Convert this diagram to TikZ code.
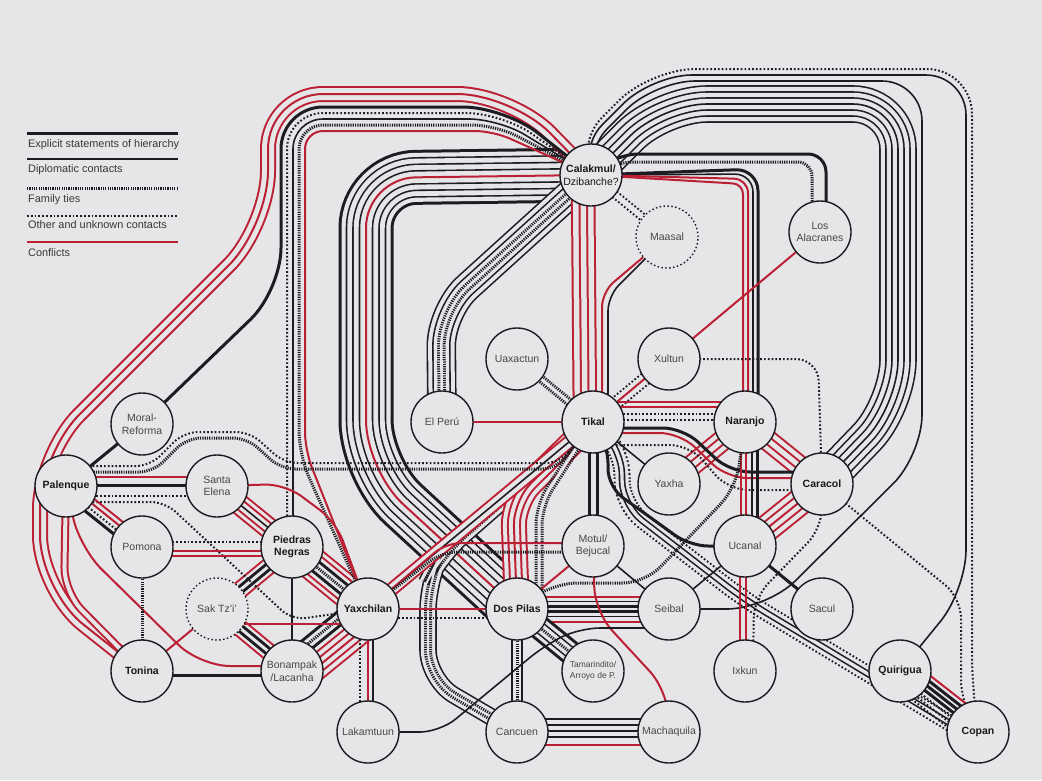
\documentclass[tikz,border=0pt]{standalone}
\usepackage{fontspec}
\setmainfont{Liberation Sans}
\usetikzlibrary{calc}
\definecolor{bgc}{RGB}{230,230,232}
\definecolor{cred}{RGB}{188,32,52}
\definecolor{ink}{RGB}{28,28,34}
\pgfdeclarelayer{back}
\pgfsetlayers{back,main}
\tikzset{
 C/.style={draw=cred,line width={2*#1+2}}, C/.default=0,
 GC/.style={draw=bgc,line width={2*#1-2}},
 H/.style={draw=ink,line width={2*#1+3}}, H/.default=0,
 GH/.style={draw=bgc,line width={2*#1-3}},
 D/.style={draw=ink,line width={2*#1+1.6}}, D/.default=0,
 GD/.style={draw=bgc,line width={2*#1-1.6}},
 F/.style={draw=ink,line width={2*#1+3},dash pattern=on 1.2pt off 1.1pt}, F/.default=0,
 GF/.style={draw=bgc,line width={2*#1-3}},
 O/.style={draw=ink,line width={2*#1+2},dash pattern=on 1.7pt off 2.1pt}, O/.default=0,
 GO/.style={draw=bgc,line width={2*#1-2}},
 site/.style={circle,draw=ink,line width=1.4pt,fill=bgc,minimum size=62pt,inner sep=0pt,align=center,
   font=\fontsize{10.5}{12.5}\selectfont,text=black!72},
 major/.style={site,font=\fontsize{10.5}{12.5}\selectfont\bfseries,text=black!90},
 uncertain/.style={site,dash pattern=on 1.5pt off 2.4pt},
 legtext/.style={anchor=west,inner sep=0pt,font=\fontsize{10.9}{12}\selectfont,text=black!78},
}
\newcommand\bund[3][]{\foreach \s/\o in {#3}{\draw[\s=\o,#1] #2;\ifdim\o pt>0pt\relax\draw[G\s=\o,#1] #2;\fi}}
\begin{document}
\begin{tikzpicture}[x=1pt,y=-1pt]
\useasboundingbox (0,0) rectangle (1042,780);
% ---- sites ----
\node[major] (cal) at (591,175) {Calakmul/\\\mdseries Dzibanche?};
\node[uncertain] (maa) at (667,237) {Maasal};
\node[site] (ala) at (820,232) {Los\\Alacranes};
\node[site] (uax) at (517,359) {Uaxactun};
\node[site] (xul) at (669,359) {Xultun};
\node[site] (per) at (442,422) {El Perú};
\node[major] (tik) at (593,422) {Tikal};
\node[major] (nar) at (745,422) {Naranjo};
\node[site] (yah) at (669,484) {Yaxha};
\node[major] (car) at (822,484) {Caracol};
\node[site] (mor) at (142,424) {Moral-\\Reforma};
\node[major] (pal) at (66,486) {Palenque};
\node[site] (sel) at (217,486) {Santa\\Elena};
\node[site] (pom) at (142,547) {Pomona};
\node[major] (pie) at (292,547) {Piedras\\Negras};
\node[uncertain] (sak) at (217,609) {Sak Tz'i'};
\node[site] (mot) at (593,546) {Motul/\\Bejucal};
\node[site] (uca) at (745,546) {Ucanal};
\node[major] (yax) at (368,609) {Yaxchilan};
\node[major] (dos) at (517,609) {Dos Pilas};
\node[site] (sei) at (669,609) {Seibal};
\node[site] (sac) at (822,609) {Sacul};
\node[major] (ton) at (142,671) {Tonina};
\node[site] (bon) at (292,671) {Bonampak\\/Lacanha};
\node[site,font=\fontsize{8.5}{10.5}\selectfont] (tam) at (593,671) {Tamarindito/\\Arroyo de P.};
\node[site] (ixk) at (745,671) {Ixkun};
\node[major] (qui) at (900,671) {Quirigua};
\node[site] (lak) at (368,732) {Lakamtuun};
\node[site] (can) at (517,732) {Cancuen};
\node[site] (mac) at (669,732) {Machaquila};
\node[major] (cop) at (978,732) {Copan};
% ---- legend ----
\coordinate (l1a) at (27,133); \coordinate (l1b) at (178,133);
\coordinate (l2a) at (27,159); \coordinate (l2b) at (178,159);
\coordinate (l3a) at (27,188); \coordinate (l3b) at (178,188);
\coordinate (l4a) at (27,216); \coordinate (l4b) at (178,216);
\coordinate (l5a) at (27,242); \coordinate (l5b) at (178,242);
\draw[H] (l1a) -- (l1b); \draw[D] (l2a) -- (l2b); \draw[F] (l3a) -- (l3b);
\draw[O] (l4a) -- (l4b); \draw[C] (l5a) -- (l5b);
\node[legtext] (t1) at (28,145) {Explicit statements of hierarchy};
\node[legtext] (t2) at (28,170) {Diplomatic contacts};
\node[legtext] (t3) at (28,200) {Family ties};
\node[legtext] (t4) at (28,225) {Other and unknown contacts};
\node[legtext] (t5) at (28,253) {Conflicts};
% ---- connectors ----
\begin{pgfonlayer}{back}
\fill[bgc] (0,0) rectangle (1042,780);
% big bundles
\bund[rounded corners=50pt]{(cal.center) -- (366,178) -- (366,470) -- (dos.center)}{H/26,D/19.5,D/13,D/6.5,C/0}
\bund[rounded corners=45pt]{(cal.center) -- (662,104) -- (898,104) -- (898,405) -- (car.center)}{D/18,D/12,D/6,D/0}
\bund[rounded corners=35pt]{(cal.center) -- (441,311) -- (per.center)}{D/14,D/8.4,F/2.8}
\bund[rounded corners=55pt]{(cal.center) -- (512,94) -- (268,94) -- (268,226) -- (40,454) -- (40,590) -- (ton.center)}{C/7,C/0}
\bund[rounded corners=25pt]{(tik.center) -- (622,450) -- (622,505) -- (745,600) -- ($(cop)+(0,8)$)}{O/7.5,D/2.5}
\bund[rounded corners=30pt]{(tik.center) -- (440,556) -- (428,580) -- (428,680) -- (can.center)}{D/8,F/2.5}
\bund{($(cal)+(-8,0)$) -- ($(tik)+(-8,0)$)}{C/11.25,C/3.75}
\bund[rounded corners=25pt]{(tik.center) -- (513,501) -- (dos.center)}{C/12,C/6,C/0}
\bund[rounded corners=20pt]{(tik.center) -- (539,505) -- ($(dos)+(22,-10)$)}{F/3}
\bund{(dos.center) -- (sei.center)}{C/12.5,D/7.5,H/2.5}
\bund{(pie.center) -- (yax.center)}{C/16,C/11,H/5.5,F/0}
\bund{(sel.center) -- (pie.center)}{C/10,C/5,D/0}
\bund{($(bon)+(8.2,10)$) -- ($(yax)+(8.2,10)$)}{C/12,C/6,C/0}
\bund{($(bon)+(-7,-8.5)$) -- ($(yax)+(-7,-8.5)$)}{H/6,F/0}
\bund{(car.center) -- (uca.center)}{C/13,C/6.5,C/0}
\bund{(nar.center) -- (yah.center)}{C/10,C/3.5}
\bund{(nar.center) -- (car.center)}{C/10,C/3.5}
\bund{(dos.center) -- (tam.center)}{H/11,D/5.5,F/0}
\bund{(dos.center) -- (can.center)}{D/5,F/0}
\bund{($(can)+(0,-4)$) -- ($(mac)+(0,-4)$)}{D/9,D/3}
\bund{(pie.center) -- (sak.center)}{C/8,H/3}
\bund{(sak.center) -- (bon.center)}{C/8,H/3}
\bund{(tik.center) -- (mot.center)}{H/4}
\bund{(tik.center) -- (yax.center)}{C/6,D/0}
\bund{(uax.center) -- (tik.center)}{F/3}
\bund{(xul.center) -- (tik.center)}{O/6}
\bund{(cal.center) -- (maa.center)}{O/3.5}
\bund[rounded corners=25pt]{(pal.center) -- (64,592) -- (ton.center)}{C/3}
% single lines: loops from Calakmul
\draw[D,rounded corners=40pt] (cal.center) -- (579,157) -- (655,81) -- (922,81) -- (922,455) -- (767,609) -- (sei.center);
\draw[D,rounded corners=40pt] (cal.center) -- (574,153) -- (652,75) -- (966,75) -- (966,590) -- (qui.center);
\draw[O,rounded corners=45pt] (cal.center) -- (570,150) -- (650,69) -- (972,69) -- (972,700) -- (cop.center);
\draw[H,rounded corners=18pt] (cal.center) -- (620,154) -- (826,154) -- ($(ala)+(6,0)$);
\draw[F,rounded corners=14pt] (cal.center) -- (620,162) -- (812,162) -- ($(ala)+(-8,0)$);
\draw[H,rounded corners=22pt] (cal.center) -- (758,169) -- ($(nar)+(13,0)$);
\draw[D,rounded corners=18pt] (cal.center) -- (753,174) -- ($(nar)+(8,0)$);
\draw[C,rounded corners=14pt] (cal.center) -- (748,179) -- ($(nar)+(3,0)$);
\draw[C,rounded corners=10pt] (cal.center) -- (743,184) -- ($(nar)+(-2,0)$);
\draw[C,rounded corners=15pt] (maa.center) -- (602,292) -- ($(tik)+(9,0)$);
\draw[D,rounded corners=15pt] (maa.center) -- (608,296) -- ($(tik)+(15,0)$);
\draw[H,rounded corners=42pt] (cal.center) -- (505,107) -- (281,107) -- (281,290) -- (mor.center);
\draw[O,rounded corners=36pt] (cal.center) -- (502,113) -- (287,113) -- ($(pie)+(-5,0)$);
\draw[D,rounded corners=30pt] (cal.center) -- (499,119) -- (293,119) -- ($(pie)+(1,0)$);
\draw[F,rounded corners=24pt] (cal.center) -- (496,125) -- (299,125) -- (299,455) -- (yax.center);
\draw[C,rounded corners=18pt] (cal.center) -- (493,131) -- (305,131) -- (305,450) -- (yax.center);
% Tikal area
\draw[C] (ala.center) -- (tik.center);
\draw[C] (per.center) -- (tik.center);
\draw[C] ($(tik)+(0,-20)$) -- ($(nar)+(0,-20)$);
\draw[C] ($(tik)+(0,-15)$) -- ($(nar)+(0,-15)$);
\draw[O] ($(tik)+(0,-8)$) -- ($(nar)+(0,-8)$);
\draw[O] ($(tik)+(0,-2)$) -- ($(nar)+(0,-2)$);
\draw[H,rounded corners=20pt] ($(tik)+(0,6)$) -- (683,428) -- (730,472) -- ($(car)+(0,-12)$);
\draw[C,rounded corners=20pt] ($(tik)+(0,11)$) -- (680,433) -- (727,478) -- ($(car)+(0,-6)$);
\draw[O,rounded corners=20pt] ($(tik)+(0,23)$) -- (690,445) -- (728,490) -- ($(car)+(0,6)$);
\draw[D] (tik.center) -- (yah.center);
\draw[H,rounded corners=18pt] (tik.center) -- (608,445) -- (608,487) -- (690,546) -- (uca.center);
\draw[O,rounded corners=22pt] (xul.center) -- (818,359) -- (car.center);
\draw[C] ($(nar)+(-4,0)$) -- ($(uca)+(-4,0)$);
\draw[C] ($(nar)+(1,0)$) -- ($(uca)+(1,0)$);
\draw[D] ($(nar)+(7,0)$) -- ($(uca)+(7,0)$);
\draw[H] ($(nar)+(12,0)$) -- ($(uca)+(12,0)$);
\draw[C] ($(uca)+(-5,0)$) -- ($(ixk)+(-5,0)$);
\draw[C] ($(uca)+(1,0)$) -- ($(ixk)+(1,0)$);
\draw[F,rounded corners=22pt] (nar.center) -- (736,488) -- (645,583) -- (555,583) -- (dos.center);
% Motul
\draw[C,rounded corners=15pt] ($(mot)+(0,-3)$) -- (446,543) -- (yax.center);
\draw[F,rounded corners=15pt] ($(mot)+(0,6)$) -- (442,552) -- (yax.center);
\draw[C] (mot.center) -- (dos.center);
\draw[D] (mot.center) -- (sei.center);
\draw[C,rounded corners=25pt] (mot.center) -- (595,612) -- (667,690) -- (mac.center);
% south-east
\draw[C] ($(can)+(0,13)$) -- ($(mac)+(0,13)$);
\draw[D,rounded corners=20pt] (lak.center) -- (440,732) -- (545,645) -- (580,628) -- ($(sei)+(0,19)$);
\draw[D] (uca.center) -- (sei.center);
\draw[H] (uca.center) -- (sac.center);
\draw[O,rounded corners=20pt] (car.center) -- (822,528) -- (754,598) -- ($(ixk)+(8,0)$);
\draw[O,rounded corners=20pt] (car.center) -- (961,598) -- (961,700) -- (cop.center);
\draw[C] ($(qui)+(9.3,-11.7)$) -- ($(cop)+(9.3,-11.7)$);
\draw[H] ($(qui)+(6.2,-7.8)$) -- ($(cop)+(6.2,-7.8)$);
\draw[H] ($(qui)+(3.1,-3.9)$) -- ($(cop)+(3.1,-3.9)$);
\draw[H] (qui.center) -- (cop.center);
\draw[O] ($(qui)+(-3.1,3.9)$) -- ($(cop)+(-3.1,3.9)$);
\draw[O] ($(qui)+(-6.2,7.8)$) -- ($(cop)+(-6.2,7.8)$);
\draw[O] ($(qui)+(-9.3,11.7)$) -- ($(cop)+(-9.3,11.7)$);
% west
\draw[H] (pal.center) -- (mor.center);
\draw[O,rounded corners=14pt] ($(pal)+(0,-20)$) -- (150,466) -- (184,432) -- (250,432) -- (284,463) -- (560,463) -- (tik.center);
\draw[F,rounded corners=14pt] ($(pal)+(0,-14)$) -- (153,472) -- (187,438) -- (247,438) -- (281,469) -- (556,469) -- (tik.center);
\draw[C] ($(pal)+(0,-9)$) -- ($(sel)+(0,-9)$);
\draw[H] ($(pal)+(0,-1)$) -- ($(sel)+(0,-1)$);
\draw[O] ($(pal)+(0,10)$) -- ($(sel)+(0,10)$);
\draw[O,rounded corners=14pt] ($(pal)+(0,16)$) -- (165,502) -- (292,620) -- (yax.center);
\draw[C] ($(pal)+(4.7,-5.9)$) -- ($(pom)+(4.7,-5.9)$);
\draw[C] ($(pal)+(1.6,-2)$) -- ($(pom)+(1.6,-2)$);
\draw[O] ($(pal)+(-1.6,2)$) -- ($(pom)+(-1.6,2)$);
\draw[H] ($(pal)+(-4.7,5.9)$) -- ($(pom)+(-4.7,5.9)$);
\draw[C,rounded corners=30pt] (pal.center) -- (80,548) -- (200,666) -- ($(bon)+(0,-5)$);
\draw[C,rounded corners=20pt] (sel.center) -- (285,484) -- (336,522) -- (yax.center);
\draw[O] ($(pom)+(0,-5)$) -- ($(pie)+(0,-5)$);
\draw[C] ($(pom)+(0,4)$) -- ($(pie)+(0,4)$);
\draw[C] ($(pom)+(0,9)$) -- ($(pie)+(0,9)$);
\draw[F] (pom.center) -- (ton.center);
\draw[D] (pie.center) -- (bon.center);
\draw[C] ($(sak)+(0,15)$) -- ($(yax)+(0,15)$);
\draw[C] (sak.center) -- (ton.center);
\draw[H] ($(ton)+(0,4)$) -- ($(bon)+(0,4)$);
\draw[C] (yax.center) -- (dos.center);
\draw[O] ($(yax)+(0,9)$) -- ($(dos)+(0,9)$);
\draw[O] ($(yax)+(-8,0)$) -- ($(lak)+(-8,0)$);
\draw[C] (yax.center) -- (lak.center);
\draw[D] ($(yax)+(5,0)$) -- ($(lak)+(5,0)$);
\end{pgfonlayer}
\end{tikzpicture}
\end{document}
